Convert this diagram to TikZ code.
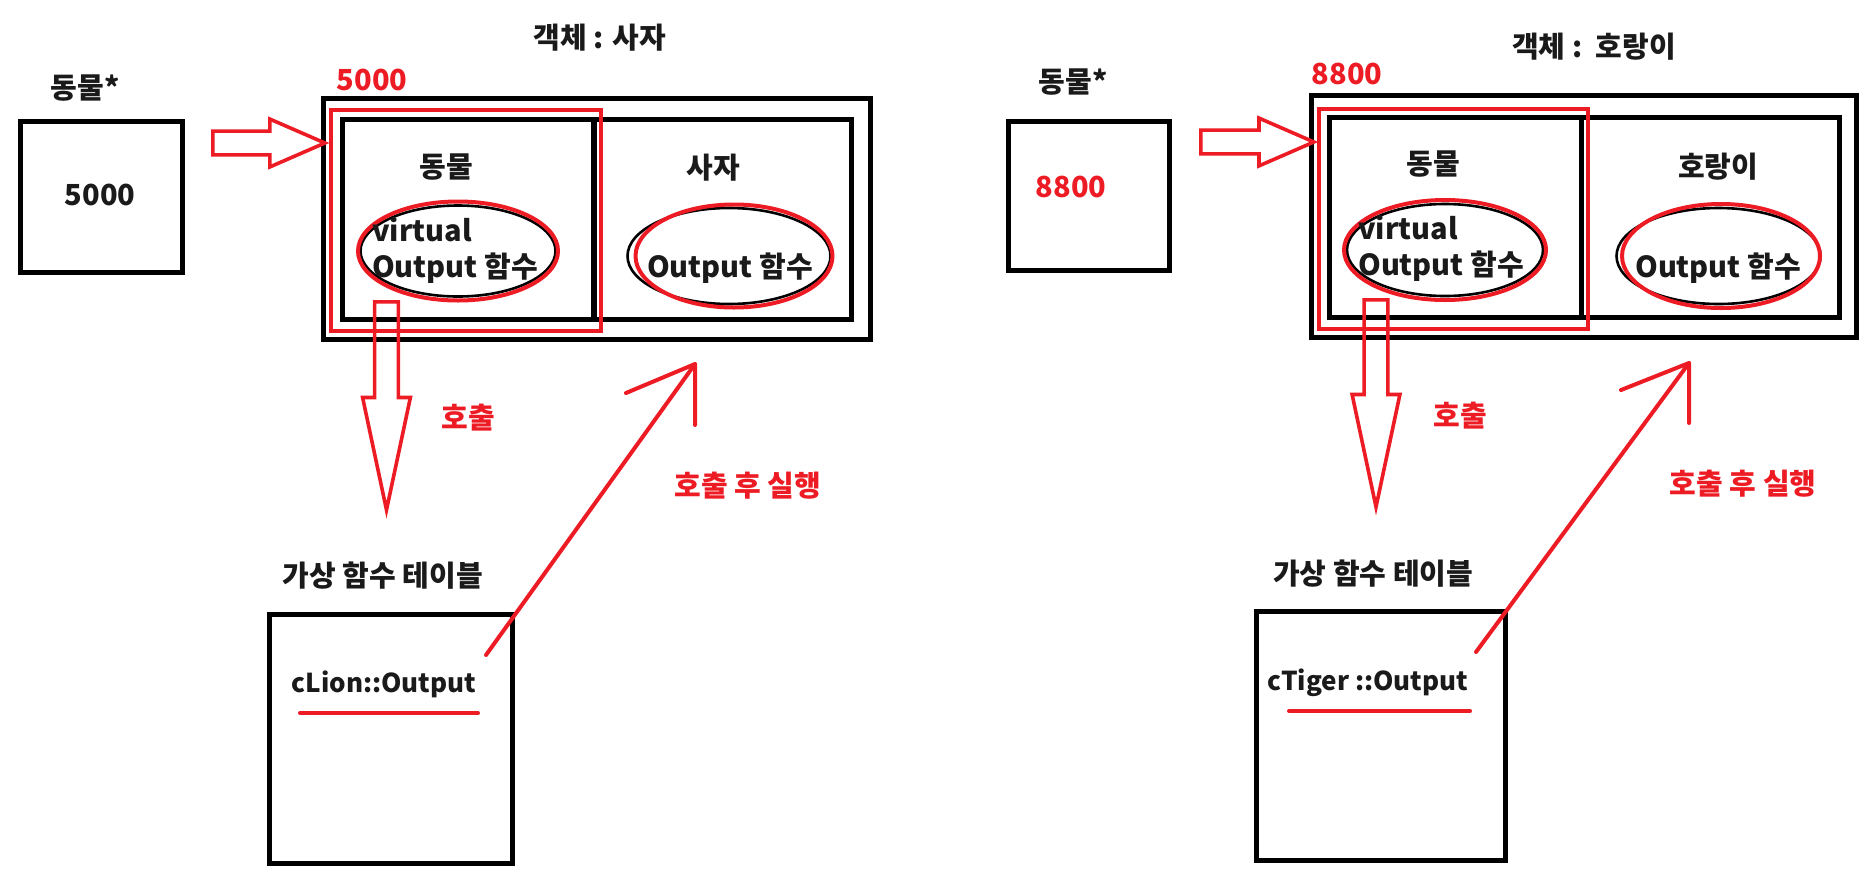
\documentclass[tikz,border=0pt]{standalone}
\usepackage{fontspec}
\setmainfont{Noto Sans CJK KR}
\definecolor{pntred}{RGB}{237,28,36}
\definecolor{pntink}{RGB}{26,26,26}
\usetikzlibrary{shapes.geometric,shapes.arrows}
\newcommand{\lblsize}{\fontsize{29}{36}\selectfont\bfseries}
\newcommand{\entrysize}{\fontsize{26}{32}\selectfont\bfseries}
\tikzset{
    frame/.style={draw=black, line width=2.5pt, inner sep=0pt},
    redframe/.style={draw=pntred, line width=2pt, inner sep=0pt},
    inktext/.style={font=\lblsize, text=pntink, inner sep=0pt},
    redtext/.style={font=\lblsize, text=pntred, inner sep=0pt},
    entrytext/.style={font=\entrysize, text=pntink, inner sep=0pt},
    fnring/.style={ellipse, draw=pntred, line width=2pt, inner sep=0pt},
    fnshade/.style={ellipse, draw=black, line width=1.3pt, inner sep=0pt},
    hollow/.style={
        single arrow, draw=pntred, line width=1.8pt, inner xsep=0pt, inner ysep=11pt,
        single arrow head indent=0pt, single arrow head extend=12pt, minimum width=46pt,
        anchor=tail
    },
    redline/.style={draw=pntred, line width=2pt, line cap=round, line join=round}
}

\begin{document}
\begin{tikzpicture}[x=1pt, y=-1pt, scale=0.5, every node/.style={transform shape}]
    \useasboundingbox (0,0) rectangle (1872,884);

    % ---- left : lion ----
    \node[frame, minimum width=162pt, minimum height=151pt] (ptrA) at (101.5,197) {};
    \node[inktext] (ptrlabA) at (85,88) {동물*};
    \node[inktext] (ptrvalA) at (100,195) {5000};

    \node[frame, minimum width=547pt, minimum height=241pt] (objA) at (597,219) {};
    \node[frame, minimum width=251.5pt, minimum height=200pt] (baseA) at (468,219.5) {};
    \node[frame, minimum width=257.5pt, minimum height=200pt] (lionA) at (723,219.5) {};
    \node[redframe, minimum width=270pt, minimum height=221pt] (castA) at (466,220.5) {};
    \node[inktext] (titleA) at (600,38) {객체 : 사자};
    \node[redtext] (addrA) at (372,80) {5000};
    \node[inktext] at (446,167) (baselabA) {동물};
    \node[inktext] at (713,168) (lionlabA) {사자};

    \node[fnshade, minimum width=195pt, minimum height=91pt] (vshadeA) at (458,251) {};
    \node[fnring, minimum width=200pt, minimum height=99pt] (vfnA) at (458,251) {};
    \node[inktext, align=left] (vtextA) at (455,250) {virtual\\Output 함수};
    \node[fnshade, minimum width=203pt, minimum height=96pt] (oshadeA) at (729,256) {};
    \node[fnring, minimum width=197pt, minimum height=103pt] (ofnA) at (734,256) {};
    \node[inktext] (otextA) at (730,268) {Output 함수};

    \node[hollow, minimum height=112pt, single arrow tip angle=47] (pushA) at (212,143) {};
    \node[hollow, minimum height=208pt, single arrow tip angle=24, rotate=-90] (callA) at (386.5,301) {};
    \node[redtext] (calllabA) at (468,418) {호출};

    \node[inktext] (vtablabA) at (383,576) {가상 함수 테이블};
    \node[frame, minimum width=243pt, minimum height=249pt] (vtabA) at (391,739) {};
    \node[entrytext] (entryA) at (384,684) {cLion::Output};
    \draw[redline] (300,713) -- (478,713);

    \coordinate (fromA) at (486,655);
    \coordinate (toA) at (695,364);
    \draw[redline] (fromA) -- (toA);
    \draw[redline] (toA) ++(-69,29) -- (toA) -- ++(0,61);
    \node[redtext] (runlabA) at (748,486) {호출 후 실행};

    % ---- right : tiger ----
    \node[frame, minimum width=161pt, minimum height=149pt] (ptrB) at (1089,196) {};
    \node[inktext] (ptrlabB) at (1073,82) {동물*};
    \node[redtext] (ptrvalB) at (1071,187) {8800};

    \node[frame, minimum width=545pt, minimum height=242pt] (objB) at (1584,216.5) {};
    \node[frame, minimum width=251.5pt, minimum height=200pt] (baseB) at (1455.25,217.5) {};
    \node[frame, minimum width=258.5pt, minimum height=200pt] (tigerB) at (1710.25,217.5) {};
    \node[redframe, minimum width=269pt, minimum height=220pt] (castB) at (1453.5,219) {};
    \node[inktext] (titleB) at (1594,47) {객체 :\ \ 호랑이};
    \node[redtext] (addrB) at (1347,74) {8800};
    \node[inktext] at (1433,164) (baselabB) {동물};
    \node[inktext] at (1718,167) (tigerlabB) {호랑이};

    \node[fnshade, minimum width=196pt, minimum height=92pt] (vshadeB) at (1445,250) {};
    \node[fnring, minimum width=202pt, minimum height=100pt] (vfnB) at (1445,250) {};
    \node[inktext, align=left] (vtextB) at (1441,248) {virtual\\Output 함수};
    \node[fnshade, minimum width=204pt, minimum height=96pt] (oshadeB) at (1718.5,256) {};
    \node[fnring, minimum width=198pt, minimum height=104pt] (ofnB) at (1721,256) {};
    \node[inktext] (otextB) at (1718,268) {Output 함수};

    \node[hollow, minimum height=113pt, single arrow tip angle=47] (pushB) at (1200,142) {};
    \node[hollow, minimum height=207pt, single arrow tip angle=24, rotate=-90] (callB) at (1376,299) {};
    \node[redtext] (calllabB) at (1460,416) {호출};

    \node[inktext] (vtablabB) at (1373,574) {가상 함수 테이블};
    \node[frame, minimum width=249pt, minimum height=249pt] (vtabB) at (1381,736) {};
    \node[entrytext] (entryB) at (1368,683) {cTiger ::Output};
    \draw[redline] (1289,711) -- (1470,711);

    \coordinate (fromB) at (1476,652);
    \coordinate (toB) at (1689,363);
    \draw[redline] (fromB) -- (toB);
    \draw[redline] (toB) ++(-68,27) -- (toB) -- ++(0,60);
    \node[redtext] (runlabB) at (1743,484) {호출 후 실행};
\end{tikzpicture}
\end{document}
